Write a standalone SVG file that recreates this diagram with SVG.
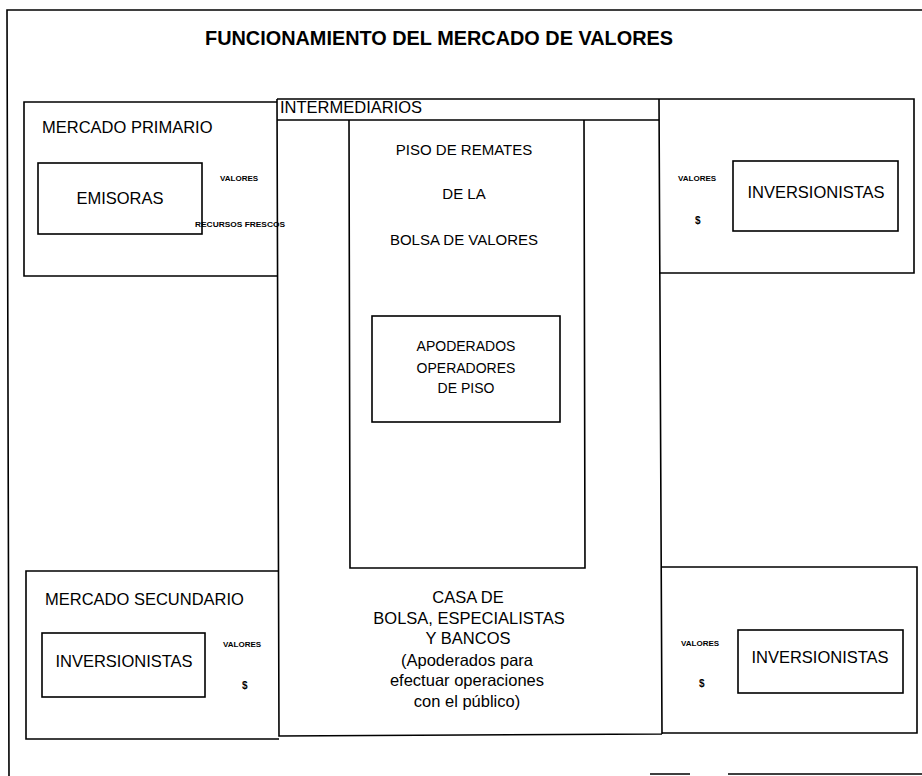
<svg xmlns="http://www.w3.org/2000/svg" width="922" height="776" viewBox="0 0 922 776">
<style>
.ln{stroke:#000;stroke-width:1.6;fill:none}
.bx{stroke:#000;stroke-width:1.6;fill:none}
text{font-family:"Liberation Sans",Arial,sans-serif;fill:#000}
.t{font-size:16.5px}
.m{font-size:15px}
.s{font-size:14px}
.xs{font-size:8px;font-weight:bold}
.d{font-size:10px;font-weight:bold}
.c{text-anchor:middle}
</style>
<rect width="922" height="776" fill="#fff"/>
<g id="frame">
<path class="ln" d="M922,10 L7,10 L9,776"/>
<path class="ln" d="M650,774 L690,774 M728,774 L922,774"/>
</g>
<g id="title">
<text x="205" y="45" textLength="468" lengthAdjust="spacingAndGlyphs" style="font-size:19.5px;font-weight:bold">FUNCIONAMIENTO DEL MERCADO DE VALORES</text>
</g>
<g id="mercado-primario">
<path class="ln" d="M277,102 L24,102 L24,276 L277,276"/>
<text class="t" x="42" y="133">MERCADO PRIMARIO</text>
</g>
<g id="emisoras">
<rect class="bx" x="38" y="163" width="164" height="71"/>
<text class="t c" x="120" y="204">EMISORAS</text>
<text class="xs" x="220" y="181">VALORES</text>
<text class="xs" x="195" y="227" textLength="90" lengthAdjust="spacingAndGlyphs">RECURSOS FRESCOS</text>
</g>
<g id="intermediarios">
<path class="ln" d="M277,99 L659,99 M277,120 L659,120 M277,99 L279,736 L662,734 M659,99 L662,734"/>
<text class="t" x="280" y="113">INTERMEDIARIOS</text>
</g>
<g id="piso-de-remates">
<path class="ln" d="M349,120 L350,568 L585,568 L584,120"/>
<text class="m c" x="464" y="155">PISO DE REMATES</text>
<text class="m c" x="464" y="199">DE LA</text>
<text class="m c" x="464" y="245">BOLSA DE VALORES</text>
</g>
<g id="apoderados">
<rect class="bx" x="372" y="316" width="188" height="106"/>
<text class="s c" x="466" y="351">APODERADOS</text>
<text class="s c" x="466" y="373">OPERADORES</text>
<text class="s c" x="466" y="393">DE PISO</text>
</g>
<g id="casa-de-bolsa">
<text class="t c" x="468" y="603">CASA DE</text>
<text class="t c" x="469" y="624">BOLSA, ESPECIALISTAS</text>
<text class="t c" x="468" y="644">Y BANCOS</text>
<text class="t c" x="467" y="666">(Apoderados para</text>
<text class="t c" x="467" y="686">efectuar operaciones</text>
<text class="t c" x="467" y="707">con el público)</text>
</g>
<g id="inversionistas-primario">
<path class="ln" d="M659,99 L914,99 L914,273 L659,273"/>
<rect class="bx" x="733" y="161" width="165" height="70"/>
<text class="t c" x="816" y="198">INVERSIONISTAS</text>
<text class="xs" x="678" y="181">VALORES</text>
<text class="d" x="695" y="224">$</text>
</g>
<g id="mercado-secundario">
<path class="ln" d="M279,571 L26,571 L26,739 L279,739"/>
<text class="t" x="45" y="605">MERCADO SECUNDARIO</text>
</g>
<g id="inversionistas-secundario-izq">
<rect class="bx" x="42" y="633" width="163" height="64"/>
<text class="t c" x="124" y="667">INVERSIONISTAS</text>
<text class="xs" x="223" y="647">VALORES</text>
<text class="d" x="242" y="689">$</text>
</g>
<g id="inversionistas-secundario-der">
<path class="ln" d="M662,567 L917,567 L917,733 L662,733"/>
<rect class="bx" x="738" y="630" width="165" height="63"/>
<text class="t c" x="820" y="663">INVERSIONISTAS</text>
<text class="xs" x="681" y="646">VALORES</text>
<text class="d" x="699" y="687">$</text>
</g>
<g id="connectors"></g>
</svg>
